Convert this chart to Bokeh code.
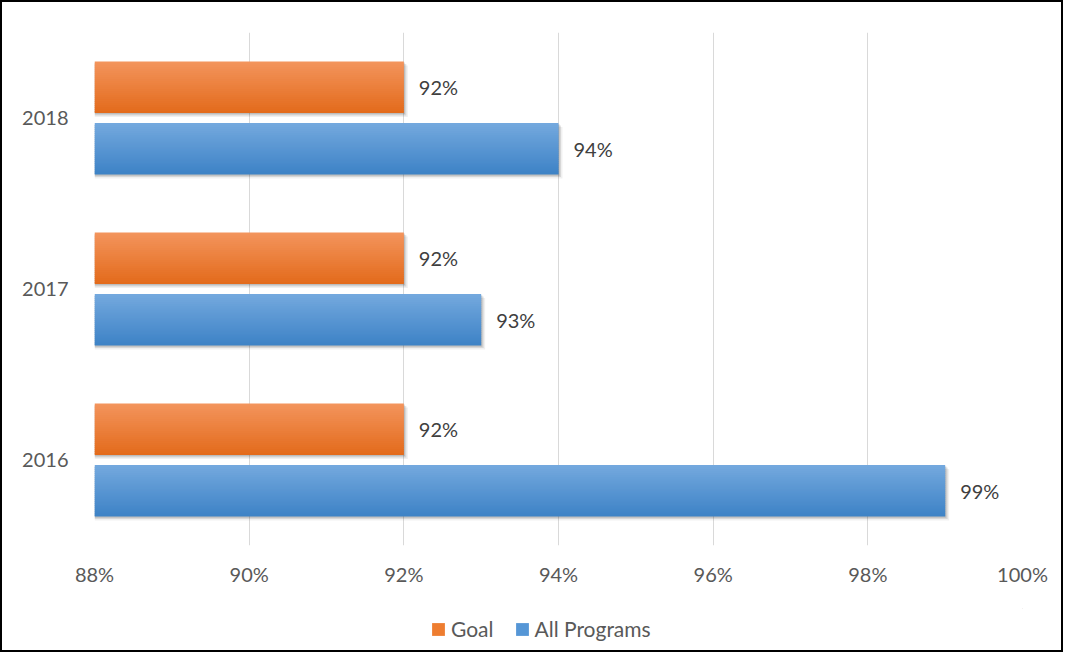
from bokeh.plotting import figure
from bokeh.layouts import column
from bokeh.models import (FactorRange, Range1d, FixedTicker, NumeralTickFormatter,
                          ColumnDataSource, Legend, LegendItem)
from bokeh.transform import dodge
from bokeh.core.properties import value
from bokeh.embed import file_html
from bokeh.resources import INLINE

# ---- data ----
years = ["2016", "2017", "2018"]
goal = [0.92, 0.92, 0.92]
all_programs = [0.99, 0.93, 0.94]
x_ticks = [0.88, 0.90, 0.92, 0.94, 0.96, 0.98, 1.00]
series_names = ["Goal", "All Programs"]

X0, X1 = 0.88, 1.00
FONT = "Lato"
W = 1059

p = figure(width=W, height=586,
           y_range=FactorRange(factors=years, range_padding=0),
           x_range=Range1d(X0, X1),
           output_backend="svg", toolbar_location=None,
           min_border_left=92, min_border_right=39,
           min_border_top=30, min_border_bottom=40)
p.outline_line_color = None
p.background_fill_color = "white"
p.border_fill_color = "white"

# grid / axes
p.ygrid.grid_line_color = None
p.xgrid.ticker = FixedTicker(ticks=x_ticks)
p.xgrid.grid_line_color = "#D9D9D9"
p.xgrid.grid_line_width = 1

p.xaxis.ticker = FixedTicker(ticks=x_ticks)
p.xaxis.formatter = NumeralTickFormatter(format="0%")
for ax in (p.xaxis, p.yaxis):
    ax.axis_line_color = None
    ax.major_tick_line_color = None
    ax.minor_tick_line_color = None
    ax.major_label_text_font = FONT
    ax.major_label_text_font_size = "20px"
    ax.major_label_text_color = "#595959"
p.xaxis.major_label_standoff = 10
p.yaxis.major_label_standoff = 20

# ---- bars ----
px_x = (X1 - X0) / 928.0
px_y = 1.0 / 172.0
bar_h = 0.302
N = 26


def mix(c1, c2, t):
    return "#%02x%02x%02x" % tuple(int(round(a + (b - a) * t)) for a, b in zip(c1, c2))


series = [
    ("Goal", goal, 0.18, (243, 148, 92), (227, 107, 28)),
    ("All Programs", all_programs, -0.18, (115, 168, 222), (62, 131, 198)),
]

for name, vals, off, ctop, cbot in series:
    src = ColumnDataSource(dict(year=years, val=vals,
                                label=["%d%%" % round(v * 100) for v in vals]))
    # soft shadow
    for dx, dy, a in ((4, 4, 0.06), (2.5, 2.5, 0.10), (1.2, 1.2, 0.12)):
        p.hbar(y=dodge("year", off - dy * px_y, range=p.y_range), left=X0,
               right=dodge("val", dx * px_x), height=bar_h,
               fill_color="black", fill_alpha=a, line_color=None, source=src)
    # vertical colour gradient built from thin overlapping bands
    band = bar_h / N
    for i in range(N):
        t = i / (N - 1)
        c = mix(ctop, cbot, t)
        h = band * 1.6 if i < N - 1 else band
        boff = off + bar_h / 2 - i * band - h / 2
        p.hbar(y=dodge("year", boff, range=p.y_range), left=X0, right="val",
               height=h, fill_color=c, line_color=None, source=src)
    p.text(x="val", y=dodge("year", off, range=p.y_range), text="label",
           x_offset=15, text_baseline="middle", text_align="left",
           text_font=value(FONT), text_font_size="20px", text_color="#404040",
           source=src)

# ---- legend strip (frame aligned with the chart's frame by the column) ----
lg = figure(width=W, height=62, x_range=Range1d(0, 1), y_range=Range1d(0, 1),
            output_backend="svg", toolbar_location=None,
            x_axis_location=None, y_axis_location=None,
            min_border_left=92, min_border_right=39,
            min_border_top=20, min_border_bottom=0)
lg.outline_line_color = None
lg.xgrid.grid_line_color = None
lg.ygrid.grid_line_color = None
items = []
for name, col in zip(series_names, ["#EE7D30", "#5596D6"]):
    # off-screen swatch renderer, used only for the legend entry
    r = lg.hbar(y=[5], left=[5], right=[6], height=1, fill_color=col, line_color=None)
    items.append(LegendItem(label=name, renderers=[r]))
legend = Legend(items=items, location=(336, 9), orientation="horizontal",
                label_text_font=FONT, label_text_font_size="21px",
                label_text_color="#595959", glyph_width=16, glyph_height=16,
                label_standoff=5, spacing=20, padding=0, margin=0,
                border_line_color=None, background_fill_alpha=0)
lg.add_layout(legend, "center")

layout = column(p, lg, spacing=0)
layout.styles = {"border": "2px solid #000000", "background-color": "white"}

open("out.html", "w").write(file_html(layout, INLINE))
